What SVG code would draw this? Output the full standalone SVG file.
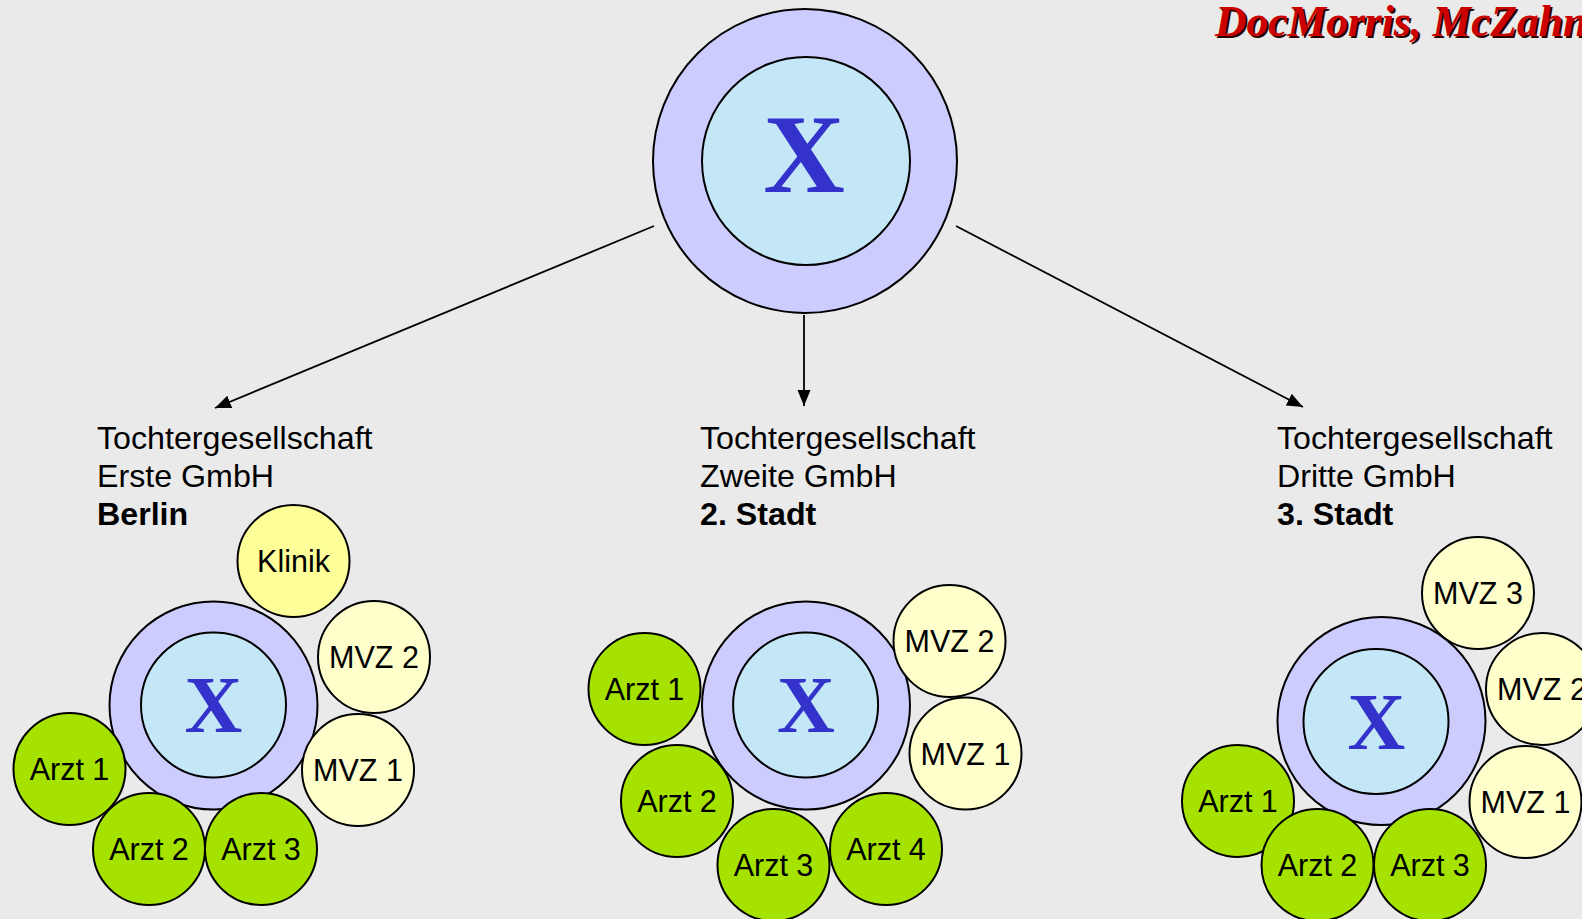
<svg xmlns="http://www.w3.org/2000/svg" width="1582" height="919" viewBox="0 0 1582 919">
<defs>
<style>
.ring{fill:#ccccff;stroke:#000;stroke-width:2}
.core{fill:#c4e7f8;stroke:#000;stroke-width:2}
.x{font-family:"Liberation Serif","Times New Roman",serif;font-weight:bold;fill:#3333cc;text-anchor:middle}
.arzt{fill:#a6e200;stroke:#000;stroke-width:2}
.mvz{fill:#ffffcc;stroke:#000;stroke-width:2}
.klinik{fill:#ffff99;stroke:#000;stroke-width:2}
.lbl{font-family:"Liberation Sans",Arial,sans-serif;font-size:30.5px;fill:#000;text-anchor:middle}
.hd{font-family:"Liberation Sans",Arial,sans-serif;font-size:32.2px;fill:#000}
.b{font-weight:bold}
.conn{stroke:#000;stroke-width:1.8;fill:none;marker-end:url(#ah)}
.title{font-family:"Liberation Serif","Times New Roman",serif;font-weight:bold;font-style:italic;font-size:43.5px}
</style>
<marker id="ah" markerUnits="userSpaceOnUse" markerWidth="18" markerHeight="14" refX="16" refY="6.5" orient="auto" viewBox="0 0 18 14">
<path d="M0,0 L16,6.5 L0,13 z" fill="#000"/>
</marker>
</defs>
<rect width="1582" height="919" fill="#eaeaea"/>

<g id="title">
<text class="title" x="1217" y="38" fill="#2a0000">DocMorris, McZahn,</text>
<text class="title" x="1215" y="36" fill="#cc0000">DocMorris, McZahn,</text>
</g>

<g id="connectors">
<line class="conn" x1="654" y1="226" x2="215" y2="408"/>
<line class="conn" x1="804" y1="315" x2="804" y2="406"/>
<line class="conn" x1="956" y1="226" x2="1303" y2="407"/>
</g>

<g id="root">
<circle class="ring" cx="805" cy="161" r="152"/>
<circle class="core" cx="806" cy="161" r="104"/>
<text class="x" x="804" y="192" font-size="113">X</text>
</g>

<g id="label-erste">
<text class="hd" x="97" y="449">Tochtergesellschaft</text>
<text class="hd" x="97" y="487">Erste GmbH</text>
<text class="hd b" x="97" y="525">Berlin</text>
</g>
<g id="label-zweite">
<text class="hd" x="700" y="449">Tochtergesellschaft</text>
<text class="hd" x="700" y="487">Zweite GmbH</text>
<text class="hd b" x="700" y="525">2. Stadt</text>
</g>
<g id="label-dritte">
<text class="hd" x="1277" y="449">Tochtergesellschaft</text>
<text class="hd" x="1277" y="487">Dritte GmbH</text>
<text class="hd b" x="1277" y="525">3. Stadt</text>
</g>

<!-- Left group -->
<g id="berlin-x">
<circle class="ring" cx="213.5" cy="705.5" r="104"/>
<circle class="core" cx="213.5" cy="705" r="72.5"/>
<text class="x" x="213.5" y="732" font-size="80">X</text>
</g>
<g id="berlin-klinik"><circle class="klinik" cx="293.5" cy="561" r="56"/><text class="lbl" x="293.5" y="572">Klinik</text></g>
<g id="berlin-mvz2"><circle class="mvz" cx="374" cy="657" r="56"/><text class="lbl" x="374" y="668">MVZ 2</text></g>
<g id="berlin-mvz1"><circle class="mvz" cx="358" cy="770" r="56"/><text class="lbl" x="358" y="781">MVZ 1</text></g>
<g id="berlin-arzt1"><circle class="arzt" cx="69.5" cy="769" r="56"/><text class="lbl" x="69.5" y="780">Arzt 1</text></g>
<g id="berlin-arzt2"><circle class="arzt" cx="149" cy="849" r="56"/><text class="lbl" x="149" y="860">Arzt 2</text></g>
<g id="berlin-arzt3"><circle class="arzt" cx="261" cy="849" r="56"/><text class="lbl" x="261" y="860">Arzt 3</text></g>

<!-- Middle group -->
<g id="stadt2-x">
<circle class="ring" cx="806" cy="705.5" r="104"/>
<circle class="core" cx="805.6" cy="705" r="72.5"/>
<text class="x" x="806" y="732" font-size="80">X</text>
</g>
<g id="stadt2-mvz2"><circle class="mvz" cx="949.5" cy="641" r="56"/><text class="lbl" x="949.5" y="652">MVZ 2</text></g>
<g id="stadt2-mvz1"><circle class="mvz" cx="965.5" cy="753.5" r="56"/><text class="lbl" x="965.5" y="764.5">MVZ 1</text></g>
<g id="stadt2-arzt1"><circle class="arzt" cx="644.5" cy="689" r="56"/><text class="lbl" x="644.5" y="700">Arzt 1</text></g>
<g id="stadt2-arzt2"><circle class="arzt" cx="677" cy="801" r="56"/><text class="lbl" x="677" y="812">Arzt 2</text></g>
<g id="stadt2-arzt3"><circle class="arzt" cx="773.5" cy="865" r="56"/><text class="lbl" x="773.5" y="876">Arzt 3</text></g>
<g id="stadt2-arzt4"><circle class="arzt" cx="886" cy="849" r="56"/><text class="lbl" x="886" y="860">Arzt 4</text></g>

<!-- Right group -->
<g id="stadt3-x">
<circle class="ring" cx="1381.5" cy="721" r="104"/>
<circle class="core" cx="1376" cy="721.5" r="72.5"/>
<text class="x" x="1376.5" y="749" font-size="80">X</text>
</g>
<g id="stadt3-mvz3"><circle class="mvz" cx="1478" cy="593" r="56"/><text class="lbl" x="1478" y="604">MVZ 3</text></g>
<g id="stadt3-mvz2"><circle class="mvz" cx="1542" cy="689" r="56"/><text class="lbl" x="1542" y="700">MVZ 2</text></g>
<g id="stadt3-mvz1"><circle class="mvz" cx="1525.5" cy="802" r="56"/><text class="lbl" x="1525.5" y="813">MVZ 1</text></g>
<g id="stadt3-arzt1"><circle class="arzt" cx="1238" cy="801" r="56"/><text class="lbl" x="1238" y="812">Arzt 1</text></g>
<g id="stadt3-arzt2"><circle class="arzt" cx="1317.5" cy="865" r="56"/><text class="lbl" x="1317.5" y="876">Arzt 2</text></g>
<g id="stadt3-arzt3"><circle class="arzt" cx="1430" cy="865" r="56"/><text class="lbl" x="1430" y="876">Arzt 3</text></g>
</svg>
